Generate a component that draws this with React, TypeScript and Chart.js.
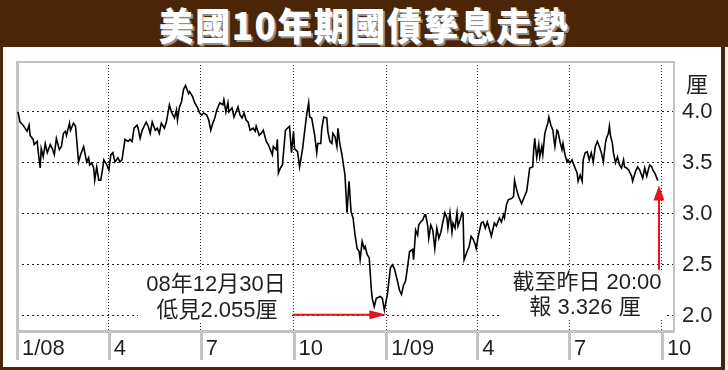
import React, { useEffect, useRef } from "react";
import { Chart, registerables } from "chart.js";

Chart.register(...registerables);

// days counted from 1 Jan 2008
const days2008 = [
  1, 3, 6, 10, 12, 13, 16, 17, 20, 21, 23, 24, 26, 28, 30, 33, 35, 37, 39, 42,
  44, 46, 48, 49, 52, 53, 56, 58, 61, 63, 66, 67, 69, 71, 72, 74, 76, 77, 79, 81,
  83, 85, 86, 89, 91, 93, 95, 97, 100, 102, 104, 107, 110, 112, 114, 116, 119, 120, 122, 124,
  128, 130, 132,
  134, 137, 139, 141, 143, 146, 148, 151, 153, 156, 158, 159, 161, 163, 165, 167, 170, 171, 174, 176,
  179, 181, 183, 185, 188, 190, 192, 194, 196, 198, 201, 204, 205, 207, 209, 210, 213, 215, 217, 219,
  221, 223, 225, 227, 229, 231, 234, 236, 237, 240, 242, 244, 247, 249, 251, 253, 254, 257, 258, 259,
  261, 263, 266, 268, 270,
  272, 274, 275, 278, 280, 283, 285, 287, 289, 290, 292, 295, 297, 298, 301, 302, 304, 307, 308, 310,
  312, 313, 315, 317, 318, 320, 322, 323, 325, 327, 329, 331, 333, 335, 337, 339, 340, 342, 344, 345,
  347, 349, 351, 352, 354, 356, 360, 362, 364,
];
const yields2008 = [
  4.0, 3.9, 3.87, 3.81, 3.87, 3.77, 3.73, 3.68, 3.71, 3.61, 3.45, 3.64, 3.56, 3.69, 3.6, 3.68, 3.64, 3.58, 3.74, 3.63,
  3.66, 3.79, 3.81, 3.77, 3.89, 3.82, 3.89, 3.86, 3.51, 3.58, 3.66, 3.61, 3.51, 3.55, 3.48, 3.5, 3.45, 3.33, 3.46, 3.33,
  3.33, 3.45, 3.53, 3.48, 3.43, 3.58, 3.6, 3.51, 3.55, 3.51, 3.53, 3.73, 3.71, 3.73, 3.71, 3.84, 3.87, 3.84, 3.74, 3.82,
  3.9, 3.86, 3.79,
  3.9, 3.82, 3.84, 3.79, 3.89, 3.84, 3.9, 4.07, 4.0, 3.94, 4.02, 3.92, 4.05, 4.1, 4.22, 4.26, 4.18, 4.2, 4.15, 4.09,
  4.04, 3.99, 3.97, 3.99, 3.97, 3.92, 3.82, 3.89, 3.94, 4.02, 4.09, 4.07, 4.12, 4.0, 4.09, 4.0, 4.04, 3.95, 4.0, 4.05,
  3.97, 3.94, 3.99, 3.92, 3.9, 3.82, 3.84, 3.81, 3.86, 3.77, 3.79, 3.82, 3.71, 3.68, 3.63, 3.58, 3.66, 3.63, 3.73, 3.4,
  3.45, 3.48, 3.82, 3.84, 3.86,
  3.6, 3.81, 3.64, 3.61, 3.46, 3.64, 3.81, 3.97, 4.09, 3.95, 3.94, 3.77, 3.6, 3.69, 3.69, 3.84, 3.95, 3.94, 3.81, 3.71,
  3.69, 3.79, 3.76, 3.66, 3.84, 3.68, 3.58, 3.51, 3.38, 3.01, 3.32, 3.02, 2.96, 2.79, 2.66, 2.63, 2.55, 2.73, 2.66, 2.68,
  2.6, 2.57, 2.27, 2.17, 2.09, 2.17, 2.19, 2.17, 2.055,
];

const days2009 = [
  367, 370, 372, 374, 377, 379, 381, 383, 385, 387, 389, 392, 393, 395, 397, 398, 400, 402, 404, 405,
  407, 408, 410, 412, 414, 416, 418, 420, 422, 424, 426, 427, 429, 431, 432, 434, 436, 437, 439, 441,
  442, 443, 446, 448, 450, 452, 454, 455, 457, 460, 462, 464, 466, 469, 470, 473, 475, 478, 480, 482,
  483, 485, 487, 490, 492, 493, 495, 497, 500, 502, 505, 507, 508, 511, 512, 513, 515, 517, 518, 520,
  521, 523, 525, 526, 527, 529, 531, 532, 533, 535, 536, 538, 540, 541, 543, 545, 546, 548, 550, 551,
  553, 555, 556, 558, 560, 561, 563, 565, 567, 569, 571, 573, 575, 577, 579, 581, 583, 584, 586, 587,
  588, 590, 591, 593, 595, 597, 599, 601, 602, 604, 606, 609, 610, 613, 615, 617, 620, 622, 624, 626,
  627, 629, 630, 632, 634, 635,
];
const yields2009 = [
  2.21, 2.47, 2.5, 2.46, 2.34, 2.25, 2.21, 2.3, 2.34, 2.48, 2.63, 2.65, 2.55, 2.84, 2.79, 2.89, 2.92, 2.94, 2.99, 2.99,
  2.88, 2.76, 2.89, 2.84, 2.66, 2.86, 2.76, 2.82, 2.92, 3.01, 2.96, 2.86, 3.01, 2.82, 2.91, 2.86, 3.01, 2.88, 2.94, 3.01,
  2.99, 2.55, 2.63, 2.68, 2.78, 2.75, 2.7, 2.66, 2.78, 2.91, 2.92, 2.86, 2.92, 2.82, 2.78, 2.91, 2.88, 2.96, 2.92, 2.99,
  2.96, 3.09, 3.14, 3.15, 3.17, 3.33, 3.24, 3.17, 3.1, 3.15, 3.22, 3.37, 3.45, 3.46, 3.63, 3.74, 3.55, 3.68, 3.56, 3.66,
  3.58, 3.79, 3.86, 3.89, 3.95, 3.87, 3.82, 3.73, 3.66, 3.82, 3.81, 3.71, 3.63, 3.69, 3.58, 3.51, 3.53, 3.5, 3.53, 3.5,
  3.45, 3.4, 3.32, 3.38, 3.32, 3.53, 3.6, 3.61, 3.53, 3.6, 3.51, 3.66, 3.71, 3.66, 3.6, 3.51, 3.69, 3.74, 3.79, 3.86,
  3.77, 3.69, 3.6, 3.5, 3.56, 3.48, 3.45, 3.53, 3.46, 3.45, 3.43, 3.37, 3.32, 3.42, 3.46, 3.43, 3.35, 3.45, 3.37, 3.45,
  3.48, 3.46, 3.43, 3.4, 3.35, 3.326,
];

const quarterTickDays = [0, 91, 182, 274, 366, 456, 547, 639];
const quarterTickLabels = ["1/08", "4", "7", "10", "1/09", "4", "7", "10"];
const yTickValues = [2.0, 2.5, 3.0, 3.5, 4.0];

const lowDay = 364;
const lastDay = 635;
const lastValue = 3.326;

const titleText = "美國10年期國債孳息走勢";
const unitText = "厘";
const lowNote = ["08年12月30日", "低見2.055厘"];
const lastNote = ["截至昨日 20:00", "報 3.326 厘"];

const FONT = "'Liberation Sans', Arial, 'Noto Sans CJK TC', sans-serif";
const TEXT = "#231f20";
const RED = "#e5141c";
const BROWN = "#4a2508";
const FRAME = "#c3c3c3";

export default function App() {
  const ref = useRef<HTMLCanvasElement | null>(null);

  useEffect(() => {
    const canvas = ref.current;
    if (!canvas) return;
    const points = [
      ...days2008.map((d, i) => ({ x: d, y: yields2008[i] })),
      ...days2009.map((d, i) => ({ x: d, y: yields2009[i] })),
    ];

    const decor = {
      id: "decor",
      beforeDatasetsDraw(chart: any) {
        const { ctx, chartArea: ca, scales } = chart;
        const xs = scales.x;
        ctx.save();
        ctx.fillStyle = "#ffffff";
        ctx.fillRect(ca.left + 121, ca.top + 210, 154, 50);
        ctx.fillRect(ca.left + 483, ca.top + 208, 167, 48);
        ctx.fillStyle = FRAME;
        xs.ticks.forEach((t: any) => {
          const px = xs.getPixelForValue(t.value);
          ctx.fillRect(Math.round(px) - 1, ca.bottom, 3, 30);
        });
        ctx.fillRect(ca.left - 1, ca.top - 1, ca.right - ca.left + 2, 2);
        ctx.fillRect(ca.left - 1, ca.top - 1, 3, ca.bottom - ca.top + 31);
        ctx.fillRect(ca.right - 1, ca.top - 1, 2, ca.bottom - ca.top + 2);
        ctx.fillRect(ca.left - 1, ca.bottom, ca.right - ca.left + 2, 3);
        ctx.restore();
      },
      afterDatasetsDraw(chart: any) {
        const { ctx, chartArea: ca, scales } = chart;
        const xs = scales.x;
        const ys = scales.y;
        ctx.save();
        ctx.fillStyle = TEXT;
        ctx.font = `22px ${FONT}`;
        ctx.textAlign = "center";
        ctx.textBaseline = "middle";
        ctx.fillText(unitText, ca.right + 23, ca.top + 24);
        ctx.fillText(lowNote[0], ca.left + 199, ca.top + 223);
        ctx.fillText(lowNote[1], ca.left + 200, ca.top + 249);
        ctx.fillText(lastNote[0], ca.left + 570, ca.top + 221);
        ctx.fillText(lastNote[1], ca.left + 568, ca.top + 246);

        const lx = xs.getPixelForValue(lowDay) + 2;
        const ly = ys.getPixelForValue(2.0) - 1;
        ctx.strokeStyle = RED;
        ctx.fillStyle = RED;
        ctx.lineWidth = 2;
        ctx.beginPath();
        ctx.moveTo(xs.getPixelForValue(quarterTickDays[3]) - 1, ly);
        ctx.lineTo(lx - 14, ly);
        ctx.stroke();
        ctx.beginPath();
        ctx.moveTo(lx, ly);
        ctx.lineTo(lx - 17, ly - 4.5);
        ctx.lineTo(lx - 17, ly + 4.5);
        ctx.closePath();
        ctx.fill();

        const ax = Math.round(xs.getPixelForValue(lastDay)) + 1;
        const ay = ys.getPixelForValue(lastValue) + 5;
        ctx.beginPath();
        ctx.moveTo(ax, ys.getPixelForValue(2.5) + 5);
        ctx.lineTo(ax, ay + 12);
        ctx.stroke();
        ctx.beginPath();
        ctx.moveTo(ax, ay);
        ctx.lineTo(ax - 5.5, ay + 15);
        ctx.lineTo(ax + 5.5, ay + 15);
        ctx.closePath();
        ctx.fill();
        ctx.restore();
      },
    };

    const chart = new Chart(canvas, {
      type: "line",
      data: {
        datasets: [
          {
            data: points,
            borderColor: "#000000",
            borderWidth: 1.6,
            pointRadius: 0,
            tension: 0,
            fill: false,
          },
        ],
      },
      options: {
        animation: false,
        responsive: false,
        maintainAspectRatio: false,
        parsing: false as any,
        layout: { padding: { left: 17, top: 62, right: 0, bottom: 0 } },
        plugins: { legend: { display: false }, tooltip: { enabled: false } },
        scales: {
          x: {
            type: "linear",
            min: 0,
            max: 651,
            afterBuildTicks: (s: any) => {
              s.ticks = quarterTickDays.map((v) => ({ value: v }));
            },
            afterFit: (s: any) => {
              s.height = 40;
            },
            grid: { color: "#222222", lineWidth: 1, drawTicks: false },
            border: { display: false, dash: [1, 2] },
            ticks: {
              align: "start",
              labelOffset: 5,
              padding: 6,
              maxRotation: 0,
              autoSkip: false,
              color: TEXT,
              font: { family: FONT, size: 22 },
              callback: (_v: any, i: number) => quarterTickLabels[i],
            },
          },
          y: {
            position: "right",
            min: 1.86,
            max: 4.49,
            afterBuildTicks: (s: any) => {
              s.ticks = yTickValues.map((v) => ({ value: v }));
            },
            afterFit: (s: any) => {
              s.width = 54;
            },
            grid: { color: "#222222", lineWidth: 1, drawTicks: false },
            border: { display: false, dash: [2, 3] },
            ticks: {
              padding: 8,
              color: TEXT,
              font: { family: FONT, size: 22 },
              callback: (v: any) => Number(v).toFixed(1),
            },
          },
        },
      } as any,
      plugins: [decor],
    });
    return () => chart.destroy();
  }, []);

  return (
    <div
      style={{
        position: "absolute",
        left: 0,
        top: 0,
        width: 728,
        height: 370,
        background: BROWN,
        overflow: "hidden",
      }}
    >
      <div
        style={{
          position: "absolute",
          left: 3,
          top: 47,
          width: 718,
          height: 320,
          background: "#ffffff",
        }}
      />
      <div
        style={{
          position: "absolute",
          left: 725,
          top: 47,
          width: 3,
          height: 323,
          background: "#f2f0ee",
        }}
      />
      <div
        style={{
          position: "absolute",
          left: 0,
          top: 0,
          width: 728,
          height: 47,
          display: "flex",
          alignItems: "center",
          justifyContent: "center",
          color: "#ffffff",
          fontFamily: "'Noto Sans CJK TC', sans-serif",
          fontWeight: 900,
          fontSize: 35,
          letterSpacing: 1.5,
          lineHeight: "47px",
          textShadow: "2px 2px 0 #8f8f8f",
        }}
      >
        <span style={{ display: "inline-block", transform: "scaleY(1.08)" }}>{titleText}</span>
      </div>
      <canvas
        ref={ref}
        width={728}
        height={370}
        style={{ position: "absolute", left: 0, top: 0, width: 728, height: 370 }}
      />
    </div>
  );
}
